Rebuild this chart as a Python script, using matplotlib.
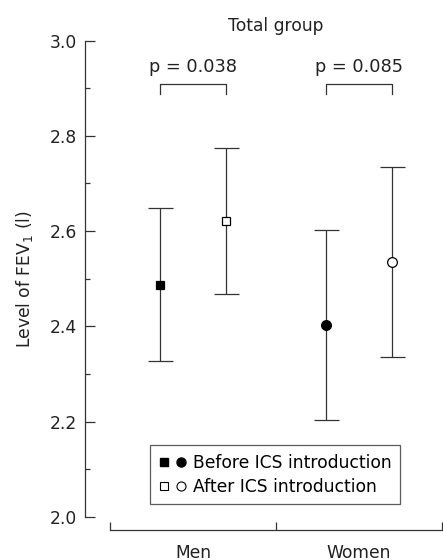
import matplotlib
matplotlib.use('Agg')
import matplotlib.pyplot as plt
from matplotlib.legend_handler import HandlerTuple
from matplotlib.lines import Line2D

groups = ['Men', 'Women']
before_mean = [2.487, 2.402]
before_lo = [2.327, 2.203]
before_hi = [2.648, 2.602]
after_mean = [2.621, 2.535]
after_lo = [2.467, 2.335]
after_hi = [2.775, 2.735]
p_labels = ['p = 0.038', 'p = 0.085']
before_markers = ['s', 'o']
after_markers = ['s', 'o']

plt.rcParams['font.family'] = ['DejaVu Sans']

dark = '#333333'
txt = '#222222'
fs = 12.3
fig = plt.figure(figsize=(4.43, 5.6), dpi=100)
ax = fig.add_axes([85/443, 43/560, 357/443, 476.5/560])

off = 0.2
sizes = {'s': 6, 'o': 7}
for i in range(len(groups)):
    xc = i + 0.5
    for x, m, lo, hi, mk, fc in [(xc - off, before_mean[i], before_lo[i], before_hi[i], before_markers[i], 'black'),
                                 (xc + off, after_mean[i], after_lo[i], after_hi[i], after_markers[i], 'white')]:
        ax.errorbar([x], [m], yerr=[[m - lo], [hi - m]], fmt='none', ecolor=dark,
                    elinewidth=0.9, capsize=9, capthick=0.9, zorder=2)
        ax.plot([x], [m], marker=mk, ms=sizes[mk], mfc=fc, mec='black', mew=0.9,
                ls='none', zorder=3)
    # bracket + p value
    ax.plot([xc - off, xc - off, xc + off, xc + off], [2.888, 2.909, 2.909, 2.888],
            color=dark, lw=0.9)
    ax.text(xc, 2.944, p_labels[i], ha='center', va='center', fontsize=fs + 0.5, color=txt)

ax.set_xlim(-0.151, 2.0)
ax.set_ylim(2.0, 3.0)

ax.spines['top'].set_visible(False)
ax.spines['right'].set_visible(False)
for s in ['left', 'bottom']:
    ax.spines[s].set_color(dark)
    ax.spines[s].set_linewidth(0.9)
ax.spines['bottom'].set_position(('outward', 9.4))
ax.spines['bottom'].set_bounds(0, 2)

ax.set_yticks([2.0, 2.2, 2.4, 2.6, 2.8, 3.0])
ax.set_yticks([2.1, 2.3, 2.5, 2.7, 2.9], minor=True)
ax.tick_params(axis='y', which='major', direction='in', length=7, width=0.9, color=dark,
               labelsize=fs, pad=6, labelcolor=txt)
ax.tick_params(axis='y', which='minor', direction='in', length=3.5, width=0.9, color=dark)

ax.set_xticks([0, 1, 2])
ax.set_xticklabels(['', '', ''])
ax.set_xticks([0.5, 1.5], minor=True)
ax.set_xticklabels(groups, minor=True)
ax.tick_params(axis='x', which='major', direction='in', length=5.5, width=0.9, color=dark)
ax.tick_params(axis='x', which='minor', length=0, labelsize=fs, pad=10, labelcolor=txt)

ax.set_ylabel('Level of FEV$_1$ (l)', fontsize=fs, color=txt, labelpad=10)
ax.text(1.0, 1.03, 'Total group', transform=ax.get_xaxis_transform(), ha='center',
        va='center', fontsize=fs, color=txt)

h_before = (Line2D([], [], marker='s', ms=5.5, mfc='black', mec='black', ls='none'),
            Line2D([], [], marker='o', ms=6.5, mfc='black', mec='black', ls='none'))
h_after = (Line2D([], [], marker='s', ms=5.5, mfc='white', mec='black', mew=0.8, ls='none'),
           Line2D([], [], marker='o', ms=6.5, mfc='white', mec='black', mew=0.8, ls='none'))
leg = ax.legend([h_before, h_after], ['Before ICS introduction', 'After ICS introduction'],
                handler_map={tuple: HandlerTuple(ndivide=None, pad=0.4)},
                loc='lower left', bbox_to_anchor=(0.182, 0.027), borderaxespad=0,
                fontsize=fs, frameon=True, fancybox=False, handlelength=1.6,
                handletextpad=0.4, borderpad=0.5, labelspacing=0.35)
leg.get_frame().set_edgecolor(dark)
leg.get_frame().set_linewidth(0.9)

fig.savefig('out.png', dpi=100)
